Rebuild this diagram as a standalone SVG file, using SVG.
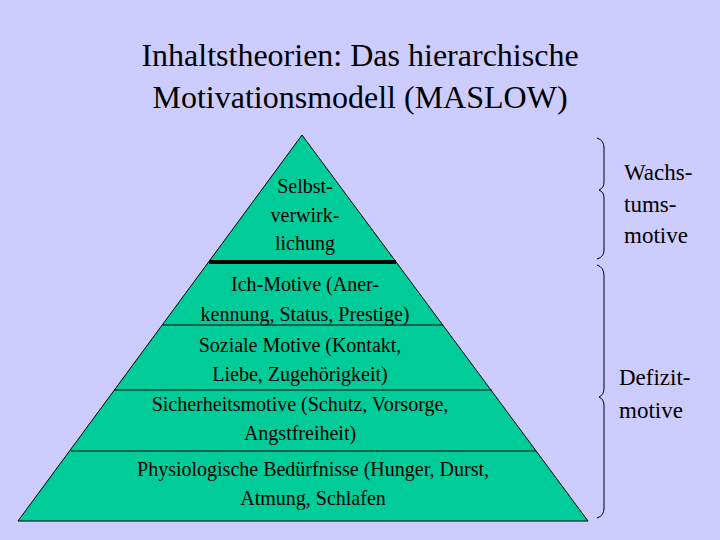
<svg xmlns="http://www.w3.org/2000/svg" width="720" height="540" viewBox="0 0 720 540" font-family="'Liberation Serif','Times New Roman',serif">
<style>
text{font-family:'Liberation Serif','Times New Roman',serif;fill:#000;text-anchor:middle}
.t{font-size:32px}
.p{font-size:20px}
.s{font-size:23px;text-anchor:start}
.l{stroke:#000;stroke-width:1;fill:none}
</style>
<rect width="720" height="540" fill="#CCCCFF"/>
<g id="title"><text class="t" x="360" y="66">Inhaltstheorien: Das hierarchische</text><text class="t" x="360" y="108">Motivationsmodell (MASLOW)</text></g>
<g id="pyramid">
<polygon points="302,135 588,521 18,521" fill="#00CC99" stroke="#000" stroke-width="1"/>
</g>
<g id="connectors">
<line x1="209" y1="262" x2="396" y2="262" stroke="#000" stroke-width="4"/>
<line class="l" x1="163" y1="325" x2="443" y2="325"/>
<line class="l" x1="114" y1="390" x2="492" y2="390"/>
<line class="l" x1="71" y1="451" x2="536" y2="451"/>
<path class="l" d="M597,138 Q604,140 604,148 L604,182 Q604,188 599,190 Q604,192 604,198 L604,250 Q604,257 597,259"/>
<path class="l" d="M597,265 Q604,267 604,276 L604,388 Q604,395 599,397 Q604,399 604,406 L604,508 Q604,516 597,518"/>
</g>
<g id="n1"><text class="p" x="305" y="193">Selbst-</text><text class="p" x="305" y="222">verwirk-</text><text class="p" x="305" y="250">lichung</text></g>
<g id="n2"><text class="p" x="305" y="291">Ich-Motive (Aner-</text><text class="p" x="305" y="321">kennung, Status, Prestige)</text></g>
<g id="n3"><text class="p" x="300" y="352">Soziale Motive (Kontakt,</text><text class="p" x="300" y="381">Liebe, Zugehörigkeit)</text></g>
<g id="n4"><text class="p" x="300" y="411">Sicherheitsmotive (Schutz, Vorsorge,</text><text class="p" x="300" y="440">Angstfreiheit)</text></g>
<g id="n5"><text class="p" x="313" y="476">Physiologische Bedürfnisse (Hunger, Durst,</text><text class="p" x="313" y="505">Atmung, Schlafen</text></g>
<g id="wachs"><text class="s" x="624" y="180">Wachs-</text><text class="s" x="624" y="212">tums-</text><text class="s" x="624" y="243">motive</text></g>
<g id="defizit"><text class="s" x="619" y="385">Defizit-</text><text class="s" x="619" y="418">motive</text></g>
</svg>
